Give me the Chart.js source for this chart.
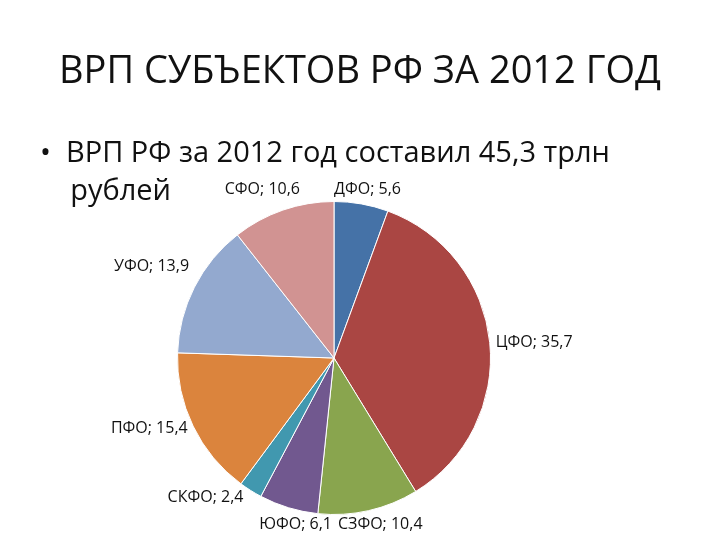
<!DOCTYPE html>
<html><head><meta charset="utf-8">
<script src="https://cdn.jsdelivr.net/npm/chart.js@4"></script>
<style>body{margin:0;background:#fff;width:720px;height:540px;overflow:hidden;position:relative;font-family:"Open Sans",sans-serif}
#t{position:absolute;top:42px;width:720px;text-align:center;font-size:38px;color:#111}
#b{position:absolute;top:132px;left:40px;font-size:29px;line-height:38px;color:#111}
canvas{position:absolute;top:0;left:0}</style></head><body>
<canvas id="c" width="720" height="540"></canvas>
<div id="t">ВРП СУБЪЕКТОВ РФ ЗА 2012 ГОД</div>
<div id="b">•&nbsp;&nbsp;ВРП РФ за 2012 год составил 45,3 трлн<br>&nbsp;&nbsp;&nbsp;&nbsp;рублей</div>
<script>
const categories=["ДФО","ЦФО","СЗФО","ЮФО","СКФО","ПФО","УФО","СФО"];
const values=[5.6,35.7,10.4,6.1,2.4,15.4,13.9,10.6];
const valueLabels=["5,6","35,7","10,4","6,1","2,4","15,4","13,9","10,6"];
const colors=["#4572A7","#AA4643","#89A54E","#71588F","#4198AF","#DB843D","#93A9CF","#D19392"];
const labelPlugin={id:"lbl",afterDraw(ch){const c=ch.ctx;const m=ch.getDatasetMeta(0);c.save();c.font="16px 'Open Sans'";c.fillStyle="#111";c.textBaseline="middle";
m.data.forEach((a,i)=>{const ang=(a.startAngle+a.endAngle)/2;const R=a.outerRadius;const r=R+6;let x=a.x+Math.cos(ang)*r,y=a.y+Math.sin(ang)*r;
c.textAlign=Math.cos(ang)>0.1?"left":(Math.cos(ang)<-0.1?"right":"center");
if(i===0){c.textAlign="left";x=a.x;y=a.y-R-12;}
if(i===7){c.textAlign="right";x=a.x-34;y=a.y-R-12;}
if(i===2){c.textAlign="left";x=a.x+4;y=a.y+R+10;}
if(i===3){c.textAlign="right";x=a.x-2;y=a.y+R+10;}
if(i===4){c.textAlign="right";x-=4;y+=2;}
if(i===6){y-=18;}
c.fillText(categories[i]+"; "+valueLabels[i],x,y);});c.restore();}};
new Chart(document.getElementById("c"),{type:"pie",data:{labels:categories,datasets:[{data:values,backgroundColor:colors,borderColor:"#fff",borderWidth:1}]},
options:{responsive:false,animation:false,layout:{padding:{top:201,bottom:25,left:177,right:229}},plugins:{legend:{display:false},tooltip:{enabled:false}}},plugins:[labelPlugin]});
</script></body></html>
